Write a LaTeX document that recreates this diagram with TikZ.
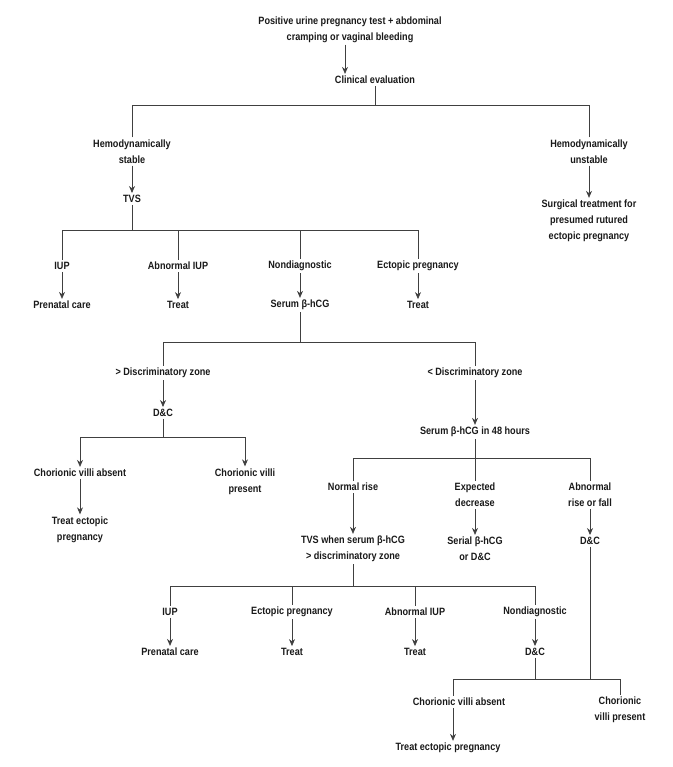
\documentclass[tikz,border=0pt]{standalone}
\usepackage{fontspec}
\setmainfont{Liberation Sans}[FakeStretch=0.86]
\usetikzlibrary{arrows.meta}
\begin{document}
\begin{tikzpicture}[x=1pt,y=-1pt,
 lbl/.style={font=\bfseries\fontsize{10.6}{16}\selectfont, align=center, inner sep=2pt, text=black!90},
 ln/.style={draw=black!75, line width=0.8pt},
 arr/.style={ln, -{Stealth[length=7pt,width=6pt]}}]
\useasboundingbox (0,0) rectangle (672,767);
% nodes
\node[lbl] (top) at (350,29.5) {Positive urine pregnancy test + abdominal\\cramping or vaginal bleeding};
\node[lbl] (ce) at (375,80) {Clinical evaluation};
\node[lbl] (hs) at (132,151.5) {Hemodynamically\\stable};
\node[lbl] (hu) at (589,151.5) {Hemodynamically\\unstable};
\node[lbl] (tvs) at (132,199) {TVS};
\node[lbl] (su) at (589,221) {Surgical treatment for\\presumed rutured\\ectopic pregnancy};
\node[lbl] (iup) at (62,266) {IUP};
\node[lbl] (aiup) at (178,266) {Abnormal IUP};
\node[lbl] (nd) at (300,266) {Nondiagnostic};
\node[lbl] (ep) at (418,266) {Ectopic pregnancy};
\node[lbl] (pc) at (62,305) {Prenatal care};
\node[lbl] (tr1) at (178,305) {Treat};
\node[lbl] (serum) at (300,305) {Serum β-hCG};
\node[lbl] (tr2) at (418,305) {Treat};
\node[lbl] (gt) at (163,373) {> Discriminatory zone};
\node[lbl] (lt) at (475,373) {< Discriminatory zone};
\node[lbl] (dc1) at (163,413) {D\&C};
\node[lbl] (cva) at (80,473) {Chorionic villi absent};
\node[lbl] (cvp) at (245,481.5) {Chorionic villi\\present};
\node[lbl] (tep) at (80,529.5) {Treat ectopic\\pregnancy};
\node[lbl] (s48) at (475,432) {Serum β-hCG in 48 hours};
\node[lbl] (nr) at (353,487) {Normal rise};
\node[lbl] (ed) at (475,495) {Expected\\decrease};
\node[lbl] (ar) at (590,495) {Abnormal\\rise or fall};
\node[lbl] (tvs2) at (353,549) {TVS when serum β-hCG\\> discriminatory zone};
\node[lbl] (sb) at (475,549) {Serial β-hCG\\or D\&C};
\node[lbl] (dc2) at (590,541) {D\&C};
\node[lbl] (iup2) at (170,612) {IUP};
\node[lbl] (ep2) at (292,612) {Ectopic pregnancy};
\node[lbl] (aiup2) at (415,612) {Abnormal IUP};
\node[lbl] (nd2) at (535,612) {Nondiagnostic};
\node[lbl] (pc2) at (170,652) {Prenatal care};
\node[lbl] (tr3) at (292,652) {Treat};
\node[lbl] (tr4) at (415,652) {Treat};
\node[lbl] (dc3) at (535,652) {D\&C};
\node[lbl] (cva2) at (459,702) {Chorionic villi absent};
\node[lbl] (cvp2) at (620,710) {Chorionic\\villi present};
\node[lbl] (tep2) at (448,748) {Treat ectopic pregnancy};
% junctions
\coordinate (j1) at (375,105);
\coordinate (j2) at (132,230);
\coordinate (j3) at (300,342);
\coordinate (j4) at (163,437);
\coordinate (j5) at (475,458);
\coordinate (j6) at (353,586);
\coordinate (j7) at (535,679);
% connectors
\draw[arr] ([xshift=-5pt]top.south) -- ([xshift=-30pt]ce.north);
\draw[ln] (ce.south) -- (j1);
\draw[ln] (hs.north) |- (j1);
\draw[ln] (hu.north) |- (j1);
\draw[arr] (hs) -- (tvs);
\draw[arr] (hu) -- (su);
\draw[ln] (tvs.south) -- (j2);
\draw[ln] (iup.north) |- (j2);
\draw[ln] (aiup.north) |- (j2);
\draw[ln] (nd.north) |- (j2);
\draw[ln] (ep.north) |- (j2);
\draw[arr] (iup) -- (pc);
\draw[arr] (aiup) -- (tr1);
\draw[arr] (nd) -- (serum);
\draw[arr] (ep) -- (tr2);
\draw[ln] (serum.south) -- (j3);
\draw[ln] (gt.north) |- (j3);
\draw[ln] (lt.north) |- (j3);
\draw[arr] (gt) -- (dc1);
\draw[ln] (dc1.south) -- (j4);
\draw[arr] (j4) -| (cva.north);
\draw[arr] (j4) -| (cvp.north);
\draw[arr] (cva) -- (tep);
\draw[arr] (lt) -- (s48);
\draw[ln] (s48.south) -- (ed.north);
\draw[ln] (nr.north) |- (j5);
\draw[ln] (ar.north) |- (j5);
\draw[arr] (nr) -- (tvs2);
\draw[arr] (ed) -- (sb);
\draw[arr] (ar) -- (dc2);
\draw[ln] (tvs2.south) -- (j6);
\draw[ln] (iup2.north) |- (j6);
\draw[ln] (ep2.north) |- (j6);
\draw[ln] (aiup2.north) |- (j6);
\draw[ln] (nd2.north) |- (j6);
\draw[arr] (iup2) -- (pc2);
\draw[arr] (ep2) -- (tr3);
\draw[arr] (aiup2) -- (tr4);
\draw[arr] (nd2) -- (dc3);
\draw[ln] (dc3.south) -- (j7);
\draw[ln] (dc2.south) -- (dc2.south |- j7);
\draw[ln] ([xshift=-6pt]cva2.north) |- (j7);
\draw[ln] (cvp2.north) |- (j7);
\draw[arr] ([xshift=-6pt]cva2.south) -- ([xshift=-6pt]cva2.south |- tep2.north);
\end{tikzpicture}
\end{document}
